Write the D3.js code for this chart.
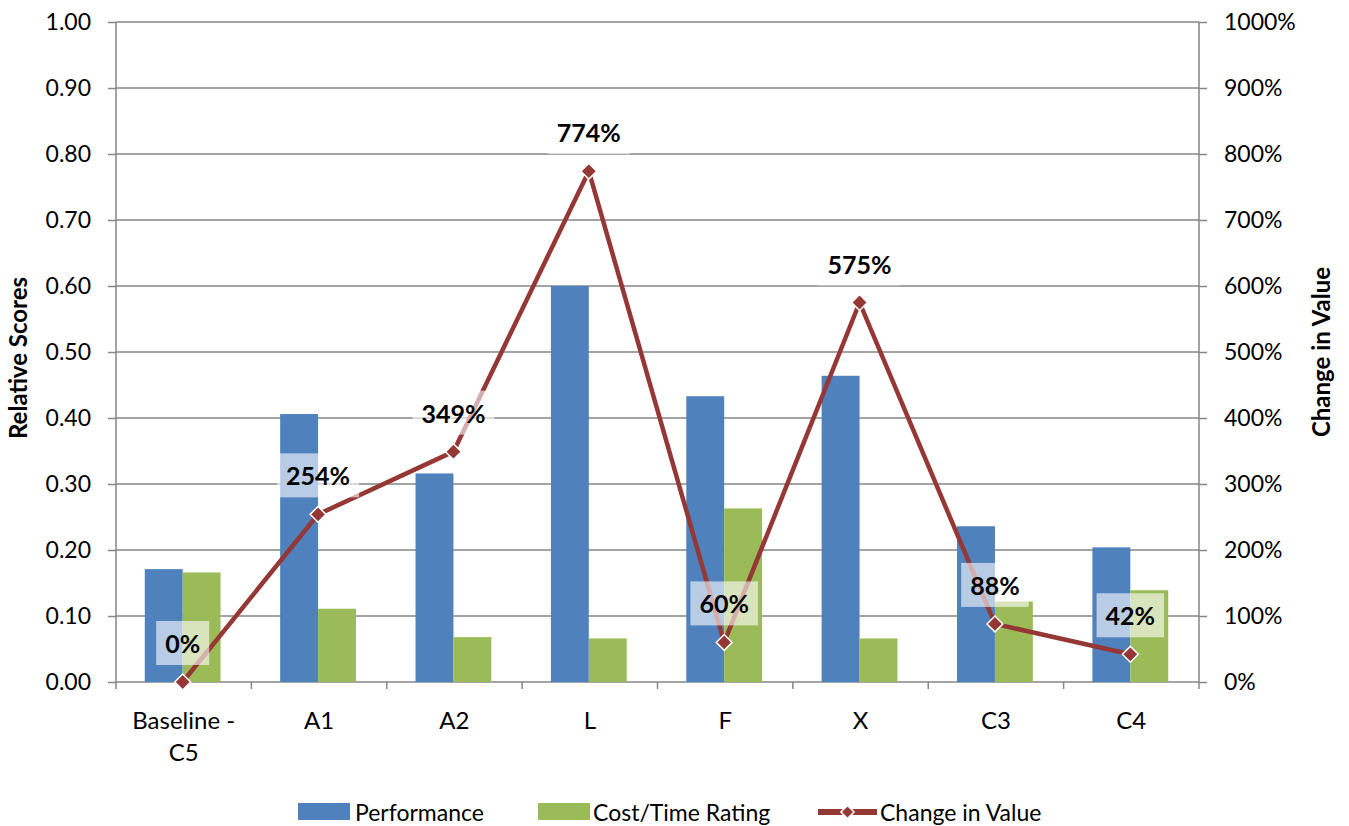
<!DOCTYPE html>
<html>
<head>
<meta charset="utf-8">
<script src="https://cdn.jsdelivr.net/npm/d3@7"></script>
<style>
  html, body { margin: 0; padding: 0; background: #fff; }
  svg { display: block; font-family: Lato, "Open Sans", sans-serif; }
</style>
</head>
<body>
<svg id="chart" width="1349" height="826"></svg>
<script>
// Categories and series
const categories = ["Baseline - C5", "A1", "A2", "L", "F", "X", "C3", "C4"];
const performance = [0.171, 0.406, 0.316, 0.600, 0.433, 0.464, 0.236, 0.204];
const costTime = [0.166, 0.111, 0.068, 0.066, 0.263, 0.066, 0.122, 0.139];
const changeInValue = [0, 254, 349, 774, 60, 575, 88, 42];
const leftTicks = [0, 0.1, 0.2, 0.3, 0.4, 0.5, 0.6, 0.7, 0.8, 0.9, 1.0];
const rightTicks = [0, 100, 200, 300, 400, 500, 600, 700, 800, 900, 1000];

const COLORS = { perf: "#4F81BD", cost: "#9BBB59", line: "#953735", grid: "#868686", text: "#000" };

const svg = d3.select("#chart");
const margin = { left: 116, right: 150, top: 22, bottom: 144 };
const W = 1349, H = 826;
const x0 = margin.left, x1 = W - margin.right, yTop = margin.top, yBot = H - margin.bottom;

const x = d3.scaleBand().domain(categories).range([x0, x1]).paddingInner(0).paddingOuter(0);
const xSub = d3.scaleBand().domain(["perf", "cost"]).range([0, x.bandwidth() * 0.56]).padding(0);
const subOffset = x.bandwidth() * 0.22 - 1;
const yL = d3.scaleLinear().domain([0, 1]).range([yBot, yTop]);
const yR = d3.scaleLinear().domain([0, 1000]).range([yBot, yTop]);

// Horizontal gridlines
svg.append("g")
  .selectAll("line")
  .data(leftTicks.filter(d => d > 0))
  .join("line")
  .attr("x1", x0).attr("x2", x1)
  .attr("y1", d => yL(d)).attr("y2", d => yL(d))
  .attr("stroke", COLORS.grid).attr("stroke-width", 1.5);

// Left axis
const leftAxis = svg.append("g")
  .attr("transform", `translate(${x0},0)`)
  .call(d3.axisLeft(yL).tickValues(leftTicks).tickFormat(d3.format(".2f")).tickSize(8).tickPadding(17));
// Right axis
const rightAxis = svg.append("g")
  .attr("transform", `translate(${x1},0)`)
  .call(d3.axisRight(yR).tickValues(rightTicks).tickFormat(d => d + "%").tickSize(8).tickPadding(17));
// Bottom axis (ticks at category boundaries)
const bottomAxis = svg.append("g")
  .attr("transform", `translate(0,${yBot})`);
bottomAxis.append("line").attr("x1", x0).attr("x2", x1).attr("y1", 0).attr("y2", 0);
bottomAxis.selectAll("line.tk")
  .data(categories.map(c => x(c)).concat([x1]))
  .join("line").attr("class", "tk")
  .attr("x1", d => d).attr("x2", d => d).attr("y1", 0).attr("y2", 7);

[leftAxis, rightAxis].forEach(g => {
  g.select(".domain").attr("stroke", COLORS.grid).attr("stroke-width", 1.5).attr("d", `M0,${yBot}V${yTop}`);
  g.selectAll(".tick line").attr("stroke", COLORS.grid).attr("stroke-width", 1.5);
  g.selectAll(".tick text").attr("font-size", 23).attr("fill", COLORS.text).attr("font-family", "Lato, sans-serif");
});
bottomAxis.selectAll("line").attr("stroke", COLORS.grid).attr("stroke-width", 1.5);

// Category labels (wrapped where they contain " - ")
const catLabels = svg.append("g").selectAll("text")
  .data(categories)
  .join("text")
  .attr("x", d => x(d) + x.bandwidth() / 2)
  .attr("y", yBot + 47)
  .attr("text-anchor", "middle")
  .attr("font-size", 24)
  .attr("fill", COLORS.text);
catLabels.each(function(d) {
  const parts = d.includes(" - ") ? [d.split(" - ")[0] + " -", d.split(" - ")[1]] : [d];
  const t = d3.select(this);
  parts.forEach((p, i) => {
    t.append("tspan").attr("x", x(d) + x.bandwidth() / 2).attr("dy", i === 0 ? 0 : 32).text(p);
  });
});

// Bars
const barG = svg.append("g");
categories.forEach((c, i) => {
  const gx = x(c) + subOffset;
  barG.append("rect")
    .attr("x", gx + xSub("perf")).attr("width", xSub.bandwidth())
    .attr("y", yL(performance[i])).attr("height", yBot - yL(performance[i]))
    .attr("fill", COLORS.perf);
  barG.append("rect")
    .attr("x", gx + xSub("cost")).attr("width", xSub.bandwidth())
    .attr("y", yL(costTime[i])).attr("height", yBot - yL(costTime[i]))
    .attr("fill", COLORS.cost);
});

// Change in value line
const cx = (c) => x(c) + subOffset + xSub.bandwidth();
const lineData = categories.map((c, i) => [cx(c), yR(changeInValue[i])]);
svg.append("path")
  .attr("d", d3.line()(lineData))
  .attr("fill", "none")
  .attr("stroke", COLORS.line)
  .attr("stroke-width", 4.5)
  .attr("stroke-linejoin", "round");

const diamond = d3.symbol().type(d3.symbolDiamond2).size(160);
svg.append("g").selectAll("path")
  .data(lineData)
  .join("path")
  .attr("transform", d => `translate(${d[0]},${d[1]})`)
  .attr("d", diamond)
  .attr("fill", COLORS.line)
  .attr("stroke", "#fff")
  .attr("stroke-width", 1.5);

// Data labels with translucent white boxes
const labelG = svg.append("g");
categories.forEach((c, i) => {
  const px = cx(c), py = yR(changeInValue[i]) - 39;
  const g = labelG.append("g");
  const box = g.append("rect");
  const t = g.append("text")
    .attr("x", px).attr("y", py)
    .attr("text-anchor", "middle").attr("dominant-baseline", "central")
    .attr("font-size", 25).attr("font-weight", "bold").attr("fill", COLORS.text)
    .text(changeInValue[i] + "%");
  const bb = t.node().getBBox();
  box.attr("x", bb.x - 9).attr("y", py - 22).attr("width", bb.width + 18).attr("height", 44)
    .attr("fill", "#fff").attr("fill-opacity", 0.6);
});

// Axis titles
svg.append("text")
  .attr("transform", `translate(27,${(yTop + yBot) / 2 + 6}) rotate(-90)`)
  .attr("text-anchor", "middle")
  .attr("font-size", 24).attr("font-weight", "bold").attr("fill", COLORS.text)
  .text("Relative Scores");
svg.append("text")
  .attr("transform", `translate(1330,${(yTop + yBot) / 2}) rotate(-90)`)
  .attr("text-anchor", "middle")
  .attr("font-size", 24).attr("font-weight", "bold").attr("fill", COLORS.text)
  .text("Change in Value");

// Legend
const legY = 812;
const leg = svg.append("g");
leg.append("rect").attr("x", 298).attr("y", legY - 9).attr("width", 52).attr("height", 17).attr("fill", COLORS.perf);
leg.append("text").attr("x", 355).attr("y", legY).attr("dominant-baseline", "central").attr("font-size", 23).text("Performance");
leg.append("rect").attr("x", 538).attr("y", legY - 9).attr("width", 52).attr("height", 17).attr("fill", COLORS.cost);
leg.append("text").attr("x", 593).attr("y", legY).attr("dominant-baseline", "central").attr("font-size", 23).text("Cost/Time Rating");
leg.append("line").attr("x1", 818).attr("x2", 877).attr("y1", legY).attr("y2", legY)
  .attr("stroke", COLORS.line).attr("stroke-width", 6);
leg.append("path").attr("transform", `translate(847.5,${legY})`).attr("d", d3.symbol().type(d3.symbolDiamond2).size(110))
  .attr("fill", COLORS.line).attr("stroke", "#fff").attr("stroke-width", 1.5);
leg.append("text").attr("x", 880).attr("y", legY).attr("dominant-baseline", "central").attr("font-size", 23).text("Change in Value");
</script>
</body>
</html>
